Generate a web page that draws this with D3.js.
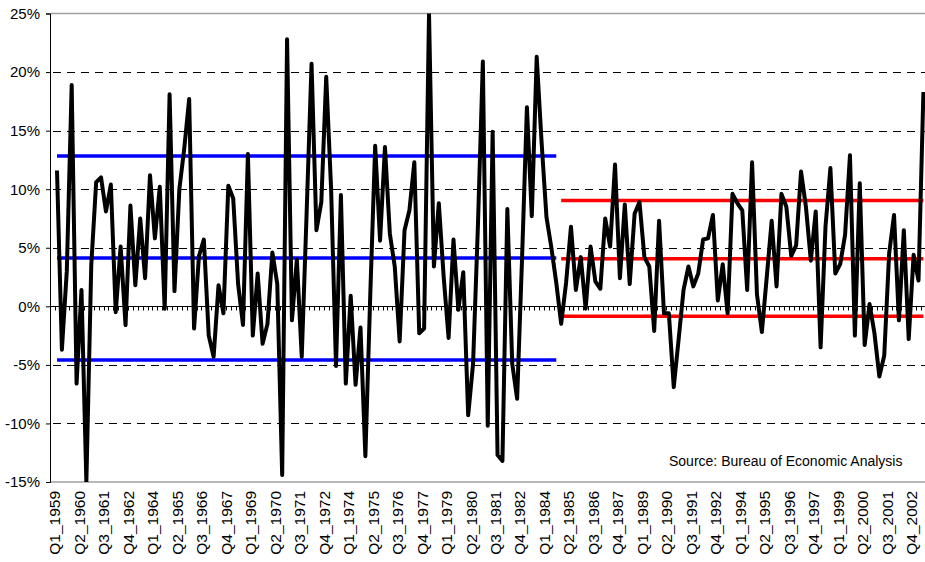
<html>
<head>
<title>Quarterly growth</title>
<script src="https://cdnjs.cloudflare.com/ajax/libs/d3/7.8.5/d3.min.js"></script>
<style>
body { margin: 0; background: #fff; }
text { font-family: "Liberation Sans", Arial, sans-serif; fill: #000; }
</style>
</head>
<body>
<svg id="chart" width="925" height="562"></svg>
<script>
// quarterly values, Q1 1959 .. Q2 2003 (percent)
var growth = [
  11.6, -3.7, 3.0, 18.9, -6.6, 1.4, -15.0, 3.5, 10.6, 11.0,
  8.1, 10.4, -0.5, 5.1, -1.6, 8.6, 1.8, 7.5, 2.4, 11.2,
  5.8, 10.2, -0.2, 18.1, 1.3, 10.0, 13.5, 17.7, -1.9, 4.3,
  5.7, -2.5, -4.3, 1.8, -0.6, 10.3, 9.2, 1.9, -1.6, 13.0,
  -2.5, 2.8, -3.2, -1.5, 4.6, 1.9, -14.4, 22.8, -1.2, 4.0,
  -4.3, 8.0, 20.7, 6.5, 8.9, 19.6, 10.0, -5.1, 9.5, -6.6,
  0.9, -6.7, -1.8, -12.8, 1.0, 13.7, 5.6, 13.6, 6.2, 3.4,
  -3.0, 6.5, 8.2, 12.3, -2.3, -1.9, 25.0, 3.4, 8.8, 2.5,
  -2.7, 5.7, -0.3, 2.9, -9.3, -4.9, 7.0, 20.9, -10.2, 14.9,
  -12.7, -13.2, 8.3, -4.9, -7.9, 4.0, 17.0, 7.7, 21.3, 14.0,
  7.6, 5.0, 2.0, -1.5, 2.0, 6.8, 1.4, 4.2, -0.2, 5.1,
  2.1, 1.5, 7.5, 5.1, 12.1, 2.4, 8.7, 1.9, 7.9, 8.9,
  4.2, 3.4, -2.1, 7.3, -0.6, -0.6, -6.9, -2.8, 1.4, 3.4,
  1.7, 2.8, 5.7, 5.8, 7.8, 0.5, 3.6, -0.6, 9.6, 8.8,
  8.2, 1.4, 12.3, 1.0, -2.2, 2.5, 7.3, 1.7, 9.6, 8.5,
  4.3, 5.2, 11.5, 8.5, 3.9, 8.1, -3.5, 6.8, 11.8, 2.8,
  3.6, 6.1, 12.9, -2.5, 10.5, -3.3, 0.2, -2.3, -6.0, -4.2,
  4.5, 7.8, -1.2, 6.5, -2.8, 4.4, 2.2, 18.3
];

// category names
var quarters = [];
for (var yr = 1959; yr <= 2003; yr++) {
  for (var q = 1; q <= 4; q++) quarters.push('Q' + q + '_' + yr);
}
quarters = quarters.slice(0, growth.length);

var tickLabels = ['Q1_1959', 'Q2_1960', 'Q3_1961', 'Q4_1962', 'Q1_1964', 'Q2_1965',
  'Q3_1966', 'Q4_1967', 'Q1_1969', 'Q2_1970', 'Q3_1971', 'Q4_1972', 'Q1_1974',
  'Q2_1975', 'Q3_1976', 'Q4_1977', 'Q1_1979', 'Q2_1980', 'Q3_1981', 'Q4_1982',
  'Q1_1984', 'Q2_1985', 'Q3_1986', 'Q4_1987', 'Q1_1989', 'Q2_1990', 'Q3_1991',
  'Q4_1992', 'Q1_1994', 'Q2_1995', 'Q3_1996', 'Q4_1997', 'Q1_1999', 'Q2_2000',
  'Q3_2001', 'Q4_2002'];

var yTicks = [-15, -10, -5, 0, 5, 10, 15, 20, 25];

// mean and +/- one std dev bands, before and after the break
var earlyPeriod = ['Q1_1959', 'Q3_1984'];
var earlyBand = [12.83, 4.12, -4.58];
var latePeriod = ['Q4_1984', 'Q2_2003'];
var lateBand = [9.03, 4.07, -0.85];

var sourceNote = 'Source: Bureau of Economic Analysis';

var mLeft = 50, mRight = 925, mTop = 13.5, mBottom = 482;
var svg = d3.select('#chart');

var x = d3.scalePoint().domain(quarters).range([57, 923.4]);
var y = d3.scaleLinear().domain([-15, 25]).range([mBottom, mTop]);

svg.append('defs').append('clipPath').attr('id', 'plot')
  .append('rect').attr('x', mLeft).attr('y', mTop).attr('width', mRight - mLeft).attr('height', mBottom - mTop);

// gridlines
svg.append('g').selectAll('line')
  .data(yTicks.filter(function (d) { return d != 0 && d != 25 && d != -15; }))
  .enter().append('line')
  .attr('x1', mLeft + 3).attr('x2', mRight)
  .attr('y1', function (d) { return Math.round(y(d)) + 0.5; })
  .attr('y2', function (d) { return Math.round(y(d)) + 0.5; })
  .attr('stroke', '#000').attr('stroke-width', 1).attr('stroke-dasharray', '8,6');

// frame top and bottom
svg.append('line').attr('x1', mLeft).attr('x2', mRight).attr('y1', mTop).attr('y2', mTop)
  .attr('stroke', '#a0a0a0').attr('stroke-width', 1.5);
svg.append('line').attr('x1', mLeft).attr('x2', mRight).attr('y1', mBottom).attr('y2', mBottom)
  .attr('stroke', '#a0a0a0').attr('stroke-width', 1.5);

// category axis crossing at 0
var zeroY = Math.round(y(0)) + 0.5;
svg.append('line').attr('x1', mLeft).attr('x2', mRight).attr('y1', zeroY).attr('y2', zeroY)
  .attr('stroke', '#000').attr('stroke-width', 1);
svg.append('g').selectAll('line').data(quarters).enter().append('line')
  .attr('x1', function (d) { return Math.round(x(d) - x.step() / 2) + 0.5; })
  .attr('x2', function (d) { return Math.round(x(d) - x.step() / 2) + 0.5; })
  .attr('y1', zeroY).attr('y2', zeroY + 4)
  .attr('stroke', '#000').attr('stroke-width', 1);

// y axis
var yAxis = d3.axisLeft(y).tickValues(yTicks).tickSize(4).tickPadding(6)
  .tickFormat(function (d) { return d + '%'; });
var yg = svg.append('g').attr('transform', 'translate(' + mLeft + ',0)').call(yAxis);
yg.select('.domain').attr('stroke', '#000');
yg.selectAll('.tick line').attr('stroke', '#000');
yg.selectAll('text').style('font-size', '15px').style('font-family', '"Liberation Sans", Arial, sans-serif');

// x labels
svg.append('g').selectAll('text').data(tickLabels).enter().append('text')
  .attr('transform', function (d) { return 'translate(' + (x(d) - 2) + ',491) rotate(-90)'; })
  .attr('text-anchor', 'end').attr('dy', '0.35em')
  .style('font-size', '15.5px')
  .text(function (d) { return d; });

var plot = svg.append('g').attr('clip-path', 'url(#plot)');

// band lines
function bandLines(period, values, color) {
  var i0 = quarters.indexOf(period[0]), i1 = quarters.indexOf(period[1]);
  plot.append('g').selectAll('line').data(values).enter().append('line')
    .attr('x1', x(quarters[i0])).attr('x2', x(quarters[i1]))
    .attr('y1', function (d) { return y(d); }).attr('y2', function (d) { return y(d); })
    .attr('stroke', color).attr('stroke-width', 3.5);
}
bandLines(earlyPeriod, earlyBand, '#0000ff');
bandLines(latePeriod, lateBand, '#ff0000');

// growth line
var line = d3.line()
  .x(function (d, i) { return x(quarters[i]); })
  .y(function (d) { return y(d); });
plot.append('path').datum(growth)
  .attr('d', line)
  .attr('fill', 'none').attr('stroke', '#000').attr('stroke-width', 4)
  .attr('stroke-linejoin', 'round');

svg.append('text').attr('x', 669).attr('y', 466)
  .style('font-size', '14px').text(sourceNote);
</script>
</body>
</html>
